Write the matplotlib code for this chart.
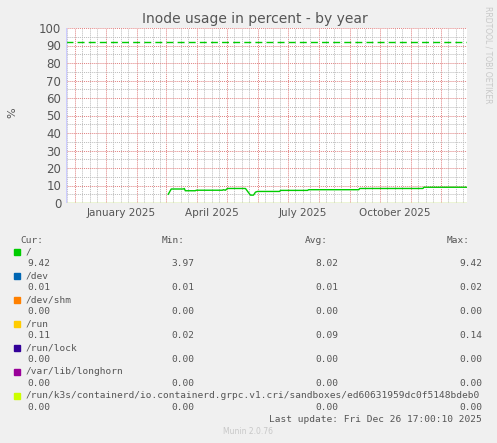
import datetime as dt

import matplotlib

matplotlib.use("Agg")
import matplotlib.dates as mdates
import matplotlib.pyplot as plt

START = dt.datetime(2024, 11, 21, 17, 0)
END = dt.datetime(2025, 12, 26, 17, 0)

# "/" series: day offset from START, value in percent
ROOT_DAYS = [102, 105, 117, 118, 119, 129, 130, 156, 157, 159, 161, 179, 182, 184, 187, 189, 191,
             213, 214, 241, 242, 292, 293, 356, 357, 400]
ROOT_VALS = [5.0, 8.0, 8.0, 8.3, 7.0, 7.0, 7.3, 7.3, 7.6, 7.3, 8.3, 8.3, 6.0, 4.5, 4.5, 6.2, 6.6,
             6.6, 7.2, 7.2, 7.6, 7.6, 8.3, 8.3, 9.0, 9.0]
WARNING = 92

NAMES = ["/", "/dev", "/dev/shm", "/run", "/run/lock", "/var/lib/longhorn",
         "/run/k3s/containerd/io.containerd.grpc.v1.cri/sandboxes/ed60631959dc0f5148bdeb0"]
COLORS = ["#00cc00", "#0066b3", "#ff8000", "#ffcc00", "#330099", "#990099", "#ccff00"]
CUR = ["9.42", "0.01", "0.00", "0.11", "0.00", "0.00", "0.00"]
MIN = ["3.97", "0.01", "0.00", "0.02", "0.00", "0.00", "0.00"]
AVG = ["8.02", "0.01", "0.00", "0.09", "0.00", "0.00", "0.00"]
MAX = ["9.42", "0.02", "0.00", "0.14", "0.00", "0.00", "0.00"]

W, H = 497, 443
fig = plt.figure(figsize=(W / 100, H / 100), dpi=100, facecolor="#f0f0f0")
ax = fig.add_axes([66 / W, 1 - 203 / H, 401 / W, 175 / H], facecolor="white")

root_x = [START + dt.timedelta(days=d) for d in ROOT_DAYS]
ax.plot(root_x, ROOT_VALS, color=COLORS[0], lw=1)
ax.plot([START, END], [0.05, 0.05], color=COLORS[6], lw=1)
ax.axhline(WARNING, color="#00cc00", lw=1, ls=(0, (5, 3)))

ax.set_xlim(START, END)
ax.set_ylim(0, 100)
ax.set_yticks(range(0, 101, 10))
ax.set_yticks(range(0, 101, 5), minor=True)
ax.xaxis.set_major_locator(mdates.MonthLocator())
ax.xaxis.set_minor_locator(mdates.DayLocator(bymonthday=[8, 16, 23]))
ax.xaxis.set_major_formatter(plt.NullFormatter())
ax.grid(True, which="minor", color="#bbbbbb", ls=(0, (1, 1)), lw=0.7)
ax.grid(True, which="major", color="#e08080", ls=(0, (1, 1)), lw=0.7)
ax.tick_params(which="both", length=0, labelsize=8.5, colors="#555555")
for s in ax.spines.values():
    s.set_visible(False)
ax.axhline(0, color="#ccccff", lw=1)
ax.axvline(START, color="#ccccff", lw=1)
for m, lab in [(1, "January 2025"), (4, "April 2025"), (7, "July 2025"), (10, "October 2025")]:
    ax.text(dt.datetime(2025, m, 16), -3, lab, ha="center", va="top", fontsize=7.5, color="#555555")

fig.text(255 / W, 1 - 19 / H, "Inode usage in percent - by year", ha="center", va="center",
         fontsize=10, color="#555555")
fig.text(12 / W, 1 - 113 / H, "%", rotation=90, ha="center", va="center", fontsize=8, color="#555555")
fig.text(488 / W, 1 - 55 / H, "RRDTOOL / TOBI OETIKER", rotation=270, ha="center", va="center",
         fontsize=5.5, color="#c8c8c8")

mono = dict(family="DejaVu Sans Mono", fontsize=6.8, color="#555555", va="center")
fig.text(20 / W, 1 - 240 / H, "Cur:", ha="left", **mono)
fig.text(162 / W, 1 - 240 / H, "Min:", ha="left", **mono)
fig.text(305 / W, 1 - 240 / H, "Avg:", ha="left", **mono)
fig.text(447 / W, 1 - 240 / H, "Max:", ha="left", **mono)
for i, name in enumerate(NAMES):
    y1 = 252 + i * 24
    y2 = y1 + 12
    fig.patches.append(plt.Rectangle((14 / W, 1 - (y1 + 3) / H), 6 / W, 6 / H,
                                     transform=fig.transFigure, color=COLORS[i]))
    fig.text(26 / W, 1 - y1 / H, name, ha="left", **mono)
    fig.text(50 / W, 1 - y2 / H, CUR[i], ha="right", **mono)
    for x, v in [(194, MIN[i]), (338, AVG[i]), (482, MAX[i])]:
        fig.text(x / W, 1 - y2 / H, v, ha="right", **mono)
fig.text(482 / W, 1 - 420 / H, "Last update: Fri Dec 26 17:00:10 2025", ha="right", **mono)
fig.text(248 / W, 1 - 432 / H, "Munin 2.0.76", ha="center", va="center", fontsize=5.5, color="#c8c8c8")

fig.savefig("out.png", dpi=100, facecolor=fig.get_facecolor())
